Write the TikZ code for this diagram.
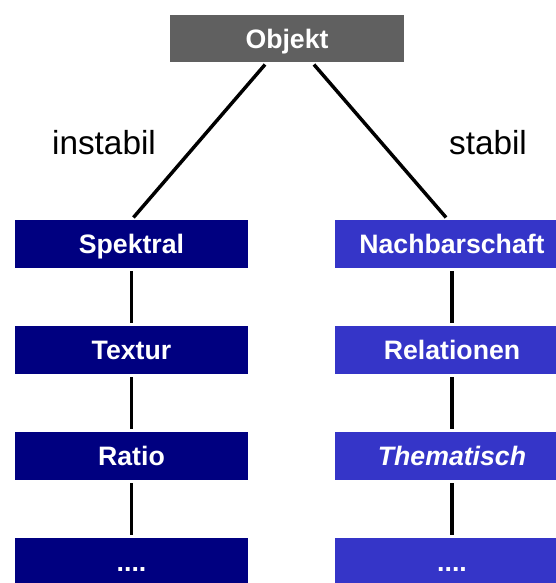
\documentclass[tikz,border=0pt]{standalone}
\usepackage{fontspec}
\setmainfont{Liberation Sans}
\definecolor{objgray}{HTML}{606060}
\definecolor{navyL}{HTML}{000080}
\definecolor{blueR}{HTML}{3535C8}
\begin{document}
\begin{tikzpicture}[x=0.75pt,y=-0.75pt,
  box/.style={rectangle, inner sep=0pt, minimum width=175pt, minimum height=36pt,
    text=white, font=\fontsize{20}{24}\selectfont\bfseries,
    text height=14.3pt, text depth=0pt},
  leftbox/.style={box, fill=navyL},
  rightbox/.style={box, fill=blueR},
  topbox/.style={box, fill=objgray, minimum width=175.5pt, minimum height=35.25pt},
  branch/.style={font=\fontsize{25}{30}\selectfont, inner sep=0pt},
  link/.style={line width=2.6pt, shorten <=2.25pt, shorten >=2.25pt}
]
\useasboundingbox (0,0) rectangle (556,583);
\begin{scope}
\clip (0,0) rectangle (556,583);

% root
\node[topbox] (obj) at (287,38.5) {Objekt};

% unstable branch
\node[leftbox] (sp) at (131.5,244) {Spektral};
\node[leftbox] (tx) at (131.5,350) {Textur};
\node[leftbox] (ra) at (131.5,456) {Ratio};
\node[leftbox] (ld) at (131.5,562) {....};

% stable branch
\node[rightbox] (nb) at (452,244) {Nachbarschaft};
\node[rightbox] (re) at (452,350) {Relationen};
\node[rightbox] (th) at (452,456) {\itshape Thematisch};
\node[rightbox] (rd) at (452,562) {....};

% branch labels
\node[branch] (li) at (104,143) {instabil};
\node[branch] (ls) at (488,143) {stabil};

% connectors
\draw[link] ([xshift=-15pt]obj.south) -- (sp.north);
\draw[link] ([xshift=18.75pt]obj.south) -- ([xshift=-3pt]nb.north);
\draw[link] (sp) -- (tx);
\draw[link] (tx) -- (ra);
\draw[link] (ra) -- (ld);
\draw[link] (nb) -- (re);
\draw[link] (re) -- (th);
\draw[link] (th) -- (rd);
\end{scope}
\end{tikzpicture}
\end{document}
